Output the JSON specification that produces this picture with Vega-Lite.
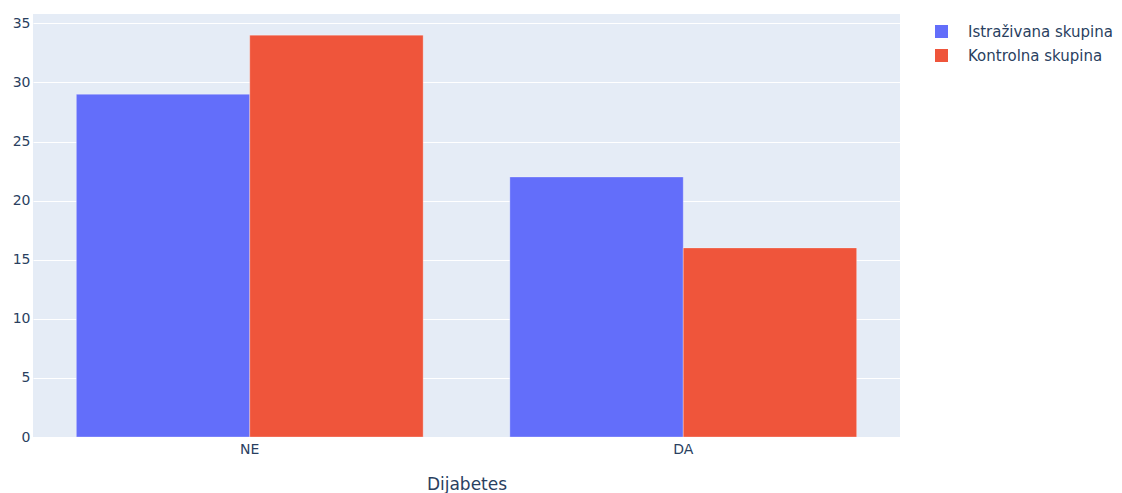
{
  "$schema": "https://vega.github.io/schema/vega-lite/v6.json",
  "width": 867,
  "height": 423,
  "autosize": {"type": "none"},
  "padding": {"left": 33, "top": 14, "right": 222, "bottom": 56},
  "background": "white",
  "config": {
    "view": {"fill": "#E5ECF6", "stroke": null},
    "font": "DejaVu Sans",
    "axis": {"labelColor": "#2a3f5f", "titleColor": "#2a3f5f", "labelFont": "DejaVu Sans", "titleFont": "DejaVu Sans", "labelFontSize": 14, "titleFontWeight": "normal"},
    "legend": {"labelColor": "#2a3f5f", "labelFont": "DejaVu Sans", "labelFontSize": 15}
  },
  "data": {
    "values": [
      {"Dijabetes": "NE", "skupina": "Istraživana skupina", "broj": 29},
      {"Dijabetes": "NE", "skupina": "Kontrolna skupina", "broj": 34},
      {"Dijabetes": "DA", "skupina": "Istraživana skupina", "broj": 22},
      {"Dijabetes": "DA", "skupina": "Kontrolna skupina", "broj": 16}
    ]
  },
  "mark": {"type": "bar", "stroke": "white", "strokeWidth": 0.5, "strokeOpacity": 0.6},
  "encoding": {
    "x": {
      "field": "Dijabetes", "type": "nominal", "sort": ["NE", "DA"],
      "scale": {"paddingInner": 0.2, "paddingOuter": 0.1},
      "axis": {"labelAngle": 0, "ticks": false, "domain": false, "grid": false, "labelPadding": 5, "labelFontSize": 14, "title": "Dijabetes", "titleFontSize": 17, "titlePadding": 20}
    },
    "xOffset": {"field": "skupina", "type": "nominal", "scale": {"paddingInner": 0, "paddingOuter": 0}},
    "y": {
      "field": "broj", "type": "quantitative",
      "scale": {"domain": [0, 35.79], "nice": false, "zero": true},
      "axis": {"values": [0, 5, 10, 15, 20, 25, 30, 35], "ticks": false, "domain": false, "gridColor": "white", "gridWidth": 1, "labelPadding": 3, "title": null}
    },
    "color": {
      "field": "skupina", "type": "nominal",
      "scale": {"domain": ["Istraživana skupina", "Kontrolna skupina"], "range": ["#636EFA", "#EF553B"]},
      "legend": {"title": null, "orient": "none", "legendX": 901, "legendY": 10, "symbolType": "square", "symbolSize": 169, "symbolStrokeWidth": 0, "labelOffset": 19, "rowPadding": 8}
    }
  }
}
